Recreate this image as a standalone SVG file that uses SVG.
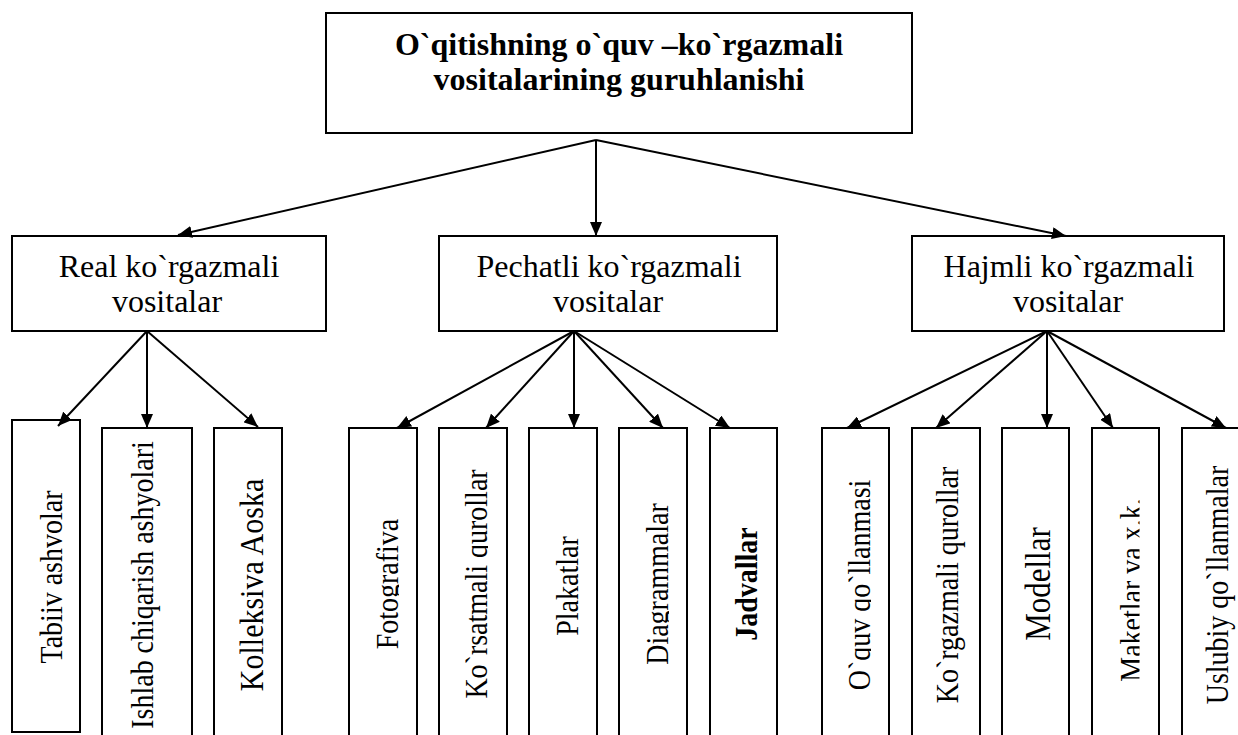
<svg xmlns="http://www.w3.org/2000/svg" width="1238" height="735" viewBox="0 0 1238 735">
<style>
.box{fill:#fff;stroke:#000;stroke-width:2}
.t{font-family:"Liberation Serif","Times New Roman",serif;font-size:32px;fill:#000;text-anchor:middle}
.v{font-size:28px}
.b{font-weight:bold}
.c line{stroke:#000;stroke-width:2;marker-end:url(#ah)}
</style>
<defs>
<marker id="ah" viewBox="0 0 14 12" refX="14" refY="6" markerWidth="14" markerHeight="12" markerUnits="userSpaceOnUse" orient="auto">
<path d="M0,0 L14,6 L0,12 z" fill="#000"/>
</marker>
<clipPath id="k1" clipPathUnits="userSpaceOnUse"><rect x="0" y="400" width="63" height="335"/></clipPath>
<clipPath id="k3" clipPathUnits="userSpaceOnUse"><rect x="200" y="400" width="64" height="335"/></clipPath>
<clipPath id="k4" clipPathUnits="userSpaceOnUse"><rect x="340" y="400" width="59" height="335"/></clipPath>
<clipPath id="k5" clipPathUnits="userSpaceOnUse"><rect x="430" y="400" width="58" height="335"/></clipPath>
<clipPath id="k7" clipPathUnits="userSpaceOnUse"><rect x="610" y="400" width="59" height="335"/></clipPath>
<clipPath id="k8" clipPathUnits="userSpaceOnUse"><rect x="700" y="400" width="58" height="335"/></clipPath>
<clipPath id="k9" clipPathUnits="userSpaceOnUse"><rect x="810" y="400" width="61" height="335"/></clipPath>
<clipPath id="k12" clipPathUnits="userSpaceOnUse"><rect x="1080" y="400" width="59.5" height="335"/></clipPath>
</defs>

<g id="top">
<rect class="box" x="326" y="13" width="586" height="120"/>
<text class="t b" x="619" y="55">O`qitishning o`quv –ko`rgazmali</text>
<text class="t b" x="619" y="90">vositalarining guruhlanishi</text>
</g>

<g id="real">
<rect class="box" x="12" y="236" width="314" height="95"/>
<text class="t" x="169" y="277">Real ko`rgazmali</text>
<text class="t" x="167" y="312">vositalar</text>
</g>
<g id="pechatli">
<rect class="box" x="439" y="236" width="338" height="95"/>
<text class="t" x="609" y="277">Pechatli ko`rgazmali</text>
<text class="t" x="608" y="312">vositalar</text>
</g>
<g id="hajmli">
<rect class="box" x="912" y="236" width="312" height="95"/>
<text class="t" x="1069" y="277">Hajmli ko`rgazmali</text>
<text class="t" x="1068" y="312">vositalar</text>
</g>

<g id="tabiiy">
<rect class="box" x="12" y="420" width="68" height="312"/>
<g clip-path="url(#k1)"><text class="t v" transform="translate(62,577) rotate(-90) scale(1,1.15)">Tabiiv ashvolar</text></g>
</g>
<g id="ishlab">
<rect class="box" x="102" y="428" width="90" height="330"/>
<text class="t v" transform="translate(153,585) rotate(-90) scale(1,1.15)">Ishlab chiqarish ashyolari</text>
</g>
<g id="kolleksiya">
<rect class="box" x="214" y="428" width="68" height="330"/>
<g clip-path="url(#k3)"><text class="t v" style="font-size:30px" transform="translate(263,585) rotate(-90) scale(1,1.15)">Kolleksiva Aoska</text></g>
</g>
<g id="fotografiya">
<rect class="box" x="349" y="428" width="68" height="330"/>
<g clip-path="url(#k4)"><text class="t v" transform="translate(398,584) rotate(-90) scale(1,1.15)">Fotografiva</text></g>
</g>
<g id="korsatmali">
<rect class="box" x="439" y="428" width="68" height="330"/>
<g clip-path="url(#k5)"><text class="t v" transform="translate(487,584) rotate(-90) scale(1,1.15)">Ko`rsatmali qurollar</text></g>
</g>
<g id="plakatlar">
<rect class="box" x="529" y="428" width="68" height="330"/>
<text class="t v" transform="translate(578,586) rotate(-90) scale(1,1.15)">Plakatlar</text>
</g>
<g id="diagrammalar">
<rect class="box" x="619" y="428" width="68" height="330"/>
<g clip-path="url(#k7)"><text class="t v" transform="translate(668,584) rotate(-90) scale(1,1.15)">Diagrammalar</text></g>
</g>
<g id="jadvallar">
<rect class="box" x="710" y="428" width="67" height="330"/>
<g clip-path="url(#k8)"><text class="t v b" transform="translate(757,584) rotate(-90) scale(1,1.15)">Jadvallar</text></g>
</g>
<g id="oquv">
<rect class="box" x="822" y="428" width="67" height="330"/>
<g clip-path="url(#k9)"><text class="t v" transform="translate(870,585) rotate(-90) scale(1,1.15)">O`quv qo`llanmasi</text></g>
</g>
<g id="korgazmali">
<rect class="box" x="912" y="428" width="68" height="330"/>
<text class="t v" transform="translate(958,585) rotate(-90) scale(1,1.15)">Ko`rgazmali qurollar</text>
</g>
<g id="modellar">
<rect class="box" x="1002" y="428" width="67" height="330"/>
<text class="t v" style="font-size:31px" transform="translate(1050,584) rotate(-90) scale(1,1.15)">Modellar</text>
</g>
<g id="maketlar">
<rect class="box" x="1092" y="428" width="67" height="330"/>
<g clip-path="url(#k12)"><text class="t v" transform="translate(1142,590) rotate(-90) scale(1,1.15)">Maketlar va x.k.</text></g>
</g>
<g id="uslubiy">
<rect class="box" x="1182" y="428" width="68" height="330"/>
<text class="t v" transform="translate(1228,585) rotate(-90) scale(1,1.15)">Uslubiy qo`llanmalar</text>
</g>

<g id="connectors" class="c">
<line x1="596" y1="140" x2="178" y2="235"/>
<line x1="596" y1="140" x2="596" y2="236"/>
<line x1="596" y1="140" x2="1066" y2="236"/>
<line x1="147" y1="331" x2="58" y2="426"/>
<line x1="147" y1="331" x2="147" y2="428"/>
<line x1="147" y1="331" x2="258" y2="427"/>
<line x1="574" y1="331" x2="397" y2="428"/>
<line x1="574" y1="331" x2="486" y2="428"/>
<line x1="574" y1="331" x2="574" y2="428"/>
<line x1="574" y1="331" x2="663" y2="428"/>
<line x1="574" y1="331" x2="730" y2="428"/>
<line x1="1047" y1="331" x2="847" y2="428"/>
<line x1="1047" y1="331" x2="936" y2="428"/>
<line x1="1047" y1="331" x2="1047" y2="428"/>
<line x1="1047" y1="331" x2="1113" y2="428"/>
<line x1="1047" y1="331" x2="1226" y2="428"/>
</g>
</svg>
